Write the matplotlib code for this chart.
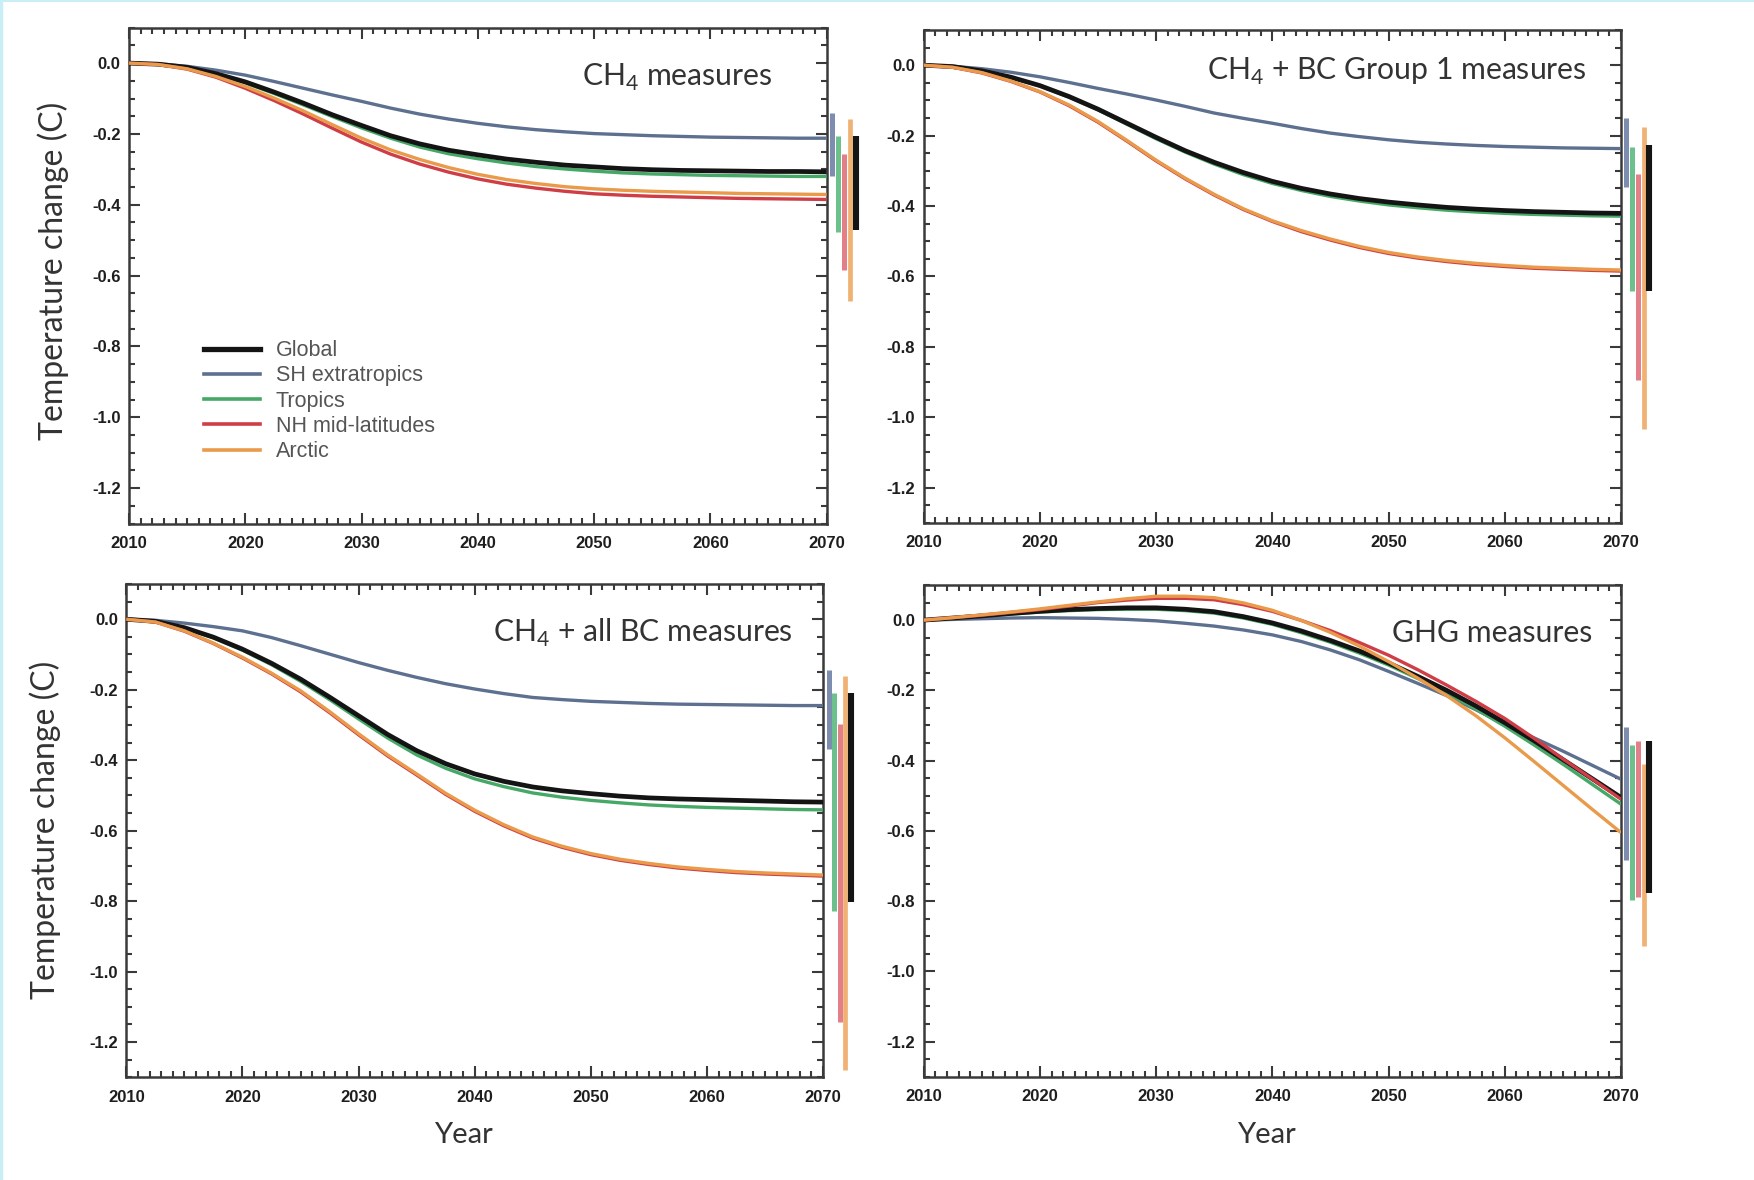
import matplotlib
matplotlib.use("Agg")
import matplotlib.pyplot as plt
from matplotlib import font_manager
from matplotlib.lines import Line2D
from matplotlib.ticker import MultipleLocator, FixedLocator, FormatStrFormatter

# ---------------- data ----------------
YEARS = [2010, 2012.5, 2015, 2017.5, 2020, 2022.5, 2025, 2027.5, 2030, 2032.5, 2035, 2037.5,
         2040, 2042.5, 2045, 2047.5, 2050, 2052.5, 2055, 2057.5, 2060, 2062.5, 2065, 2067.5, 2070]
REGIONS = ["Global", "SH extratropics", "Tropics", "NH mid-latitudes", "Arctic"]
TITLES = [r"CH$_\mathregular{4}$ measures", r"CH$_\mathregular{4}$ + BC Group 1 measures",
          r"CH$_\mathregular{4}$ + all BC measures", "GHG measures"]
X_TICKS = [2010, 2020, 2030, 2040, 2050, 2060, 2070]
Y_TICKS = [0.0, -0.2, -0.4, -0.6, -0.8, -1.0, -1.2]

# Panel 1: CH4 measures
CH4_GLOBAL = [0, -0.003, -0.012, -0.030, -0.053, -0.082, -0.113, -0.146, -0.176, -0.205, -0.228, -0.246, -0.259,
              -0.271, -0.280, -0.288, -0.293, -0.298, -0.301, -0.303, -0.304, -0.305, -0.306, -0.306, -0.307]
CH4_SH     = [0, -0.002, -0.009, -0.020, -0.034, -0.052, -0.071, -0.090, -0.108, -0.127, -0.144, -0.158, -0.170,
              -0.180, -0.188, -0.194, -0.199, -0.202, -0.205, -0.207, -0.209, -0.210, -0.211, -0.212, -0.212]
CH4_TROP   = [0, -0.003, -0.013, -0.032, -0.056, -0.086, -0.118, -0.151, -0.183, -0.212, -0.237, -0.256, -0.270,
              -0.282, -0.292, -0.299, -0.305, -0.310, -0.313, -0.315, -0.317, -0.318, -0.319, -0.320, -0.320]
CH4_NH     = [0, -0.004, -0.017, -0.040, -0.071, -0.106, -0.144, -0.184, -0.223, -0.257, -0.285, -0.308, -0.327,
              -0.342, -0.353, -0.362, -0.369, -0.373, -0.376, -0.378, -0.380, -0.382, -0.383, -0.384, -0.385]
CH4_ARC    = [0, -0.004, -0.016, -0.038, -0.066, -0.099, -0.135, -0.174, -0.212, -0.245, -0.272, -0.295, -0.314,
              -0.329, -0.340, -0.349, -0.355, -0.359, -0.362, -0.364, -0.366, -0.368, -0.369, -0.370, -0.371]

# Panel 2: CH4 + BC Group 1 measures
BC1_GLOBAL = [0, -0.004, -0.016, -0.034, -0.058, -0.089, -0.125, -0.165, -0.205, -0.243, -0.276, -0.305, -0.330,
              -0.350, -0.366, -0.379, -0.389, -0.397, -0.404, -0.409, -0.413, -0.416, -0.418, -0.420, -0.421]
BC1_SH     = [0, -0.003, -0.010, -0.020, -0.033, -0.049, -0.066, -0.082, -0.099, -0.117, -0.136, -0.151, -0.165,
              -0.180, -0.193, -0.203, -0.212, -0.219, -0.224, -0.228, -0.231, -0.233, -0.235, -0.236, -0.237]
BC1_TROP   = [0, -0.004, -0.016, -0.035, -0.059, -0.091, -0.127, -0.168, -0.209, -0.247, -0.281, -0.311, -0.336,
              -0.356, -0.373, -0.386, -0.397, -0.405, -0.412, -0.417, -0.421, -0.424, -0.426, -0.428, -0.429]
BC1_NH     = [0, -0.006, -0.022, -0.046, -0.076, -0.115, -0.162, -0.216, -0.272, -0.323, -0.369, -0.410, -0.444,
              -0.473, -0.497, -0.518, -0.535, -0.548, -0.558, -0.566, -0.572, -0.577, -0.580, -0.583, -0.585]
BC1_ARC    = [0, -0.006, -0.021, -0.045, -0.075, -0.113, -0.160, -0.214, -0.270, -0.321, -0.367, -0.408, -0.442,
              -0.470, -0.494, -0.515, -0.532, -0.545, -0.555, -0.563, -0.569, -0.574, -0.577, -0.580, -0.582]

# Panel 3: CH4 + all BC measures
ABC_GLOBAL = [0, -0.006, -0.024, -0.051, -0.085, -0.125, -0.170, -0.221, -0.274, -0.327, -0.373, -0.410, -0.439,
              -0.460, -0.476, -0.487, -0.495, -0.502, -0.507, -0.510, -0.512, -0.514, -0.516, -0.518, -0.519]
ABC_SH     = [0, -0.003, -0.011, -0.021, -0.033, -0.052, -0.075, -0.099, -0.123, -0.145, -0.165, -0.183, -0.198,
              -0.211, -0.222, -0.228, -0.233, -0.236, -0.239, -0.241, -0.242, -0.243, -0.244, -0.245, -0.245]
ABC_TROP   = [0, -0.006, -0.025, -0.053, -0.088, -0.129, -0.176, -0.228, -0.283, -0.337, -0.385, -0.423, -0.453,
              -0.475, -0.493, -0.505, -0.514, -0.521, -0.527, -0.531, -0.534, -0.536, -0.538, -0.540, -0.541]
ABC_NH     = [0, -0.008, -0.034, -0.069, -0.110, -0.155, -0.206, -0.265, -0.328, -0.388, -0.442, -0.497, -0.545,
              -0.586, -0.621, -0.647, -0.668, -0.684, -0.696, -0.706, -0.713, -0.719, -0.723, -0.726, -0.729]
ABC_ARC    = [0, -0.008, -0.033, -0.068, -0.108, -0.153, -0.203, -0.262, -0.325, -0.385, -0.439, -0.494, -0.542,
              -0.583, -0.618, -0.644, -0.665, -0.681, -0.693, -0.703, -0.710, -0.716, -0.720, -0.723, -0.726]

# Panel 4: GHG measures
GHG_GLOBAL = [0, 0.006, 0.012, 0.019, 0.025, 0.030, 0.033, 0.035, 0.035, 0.031, 0.024, 0.010, -0.008,
              -0.031, -0.058, -0.088, -0.122, -0.160, -0.200, -0.244, -0.292, -0.343, -0.397, -0.451, -0.505]
GHG_SH     = [0, 0.002, 0.004, 0.006, 0.007, 0.006, 0.005, 0.002, -0.002, -0.009, -0.017, -0.028, -0.042,
              -0.061, -0.085, -0.113, -0.146, -0.180, -0.215, -0.255, -0.297, -0.335, -0.373, -0.413, -0.453]
GHG_TROP   = [0, 0.005, 0.011, 0.017, 0.023, 0.027, 0.030, 0.031, 0.031, 0.027, 0.020, 0.006, -0.012,
              -0.036, -0.063, -0.094, -0.128, -0.166, -0.207, -0.253, -0.302, -0.355, -0.410, -0.467, -0.524]
GHG_NH     = [0, 0.007, 0.014, 0.022, 0.030, 0.040, 0.050, 0.057, 0.062, 0.062, 0.058, 0.044, 0.025,
              -0.001, -0.030, -0.064, -0.100, -0.141, -0.185, -0.231, -0.280, -0.336, -0.395, -0.452, -0.510]
GHG_ARC    = [0, 0.007, 0.015, 0.023, 0.032, 0.042, 0.052, 0.061, 0.068, 0.068, 0.064, 0.049, 0.028,
              -0.001, -0.035, -0.074, -0.118, -0.165, -0.215, -0.272, -0.335, -0.402, -0.470, -0.538, -0.605]

# 2070 ranges, order: SH, Tropics, NH, Arctic, Global
BAR_ORDER = ["SH extratropics", "Tropics", "NH mid-latitudes", "Arctic", "Global"]
CH4_BAR_TOP = [-0.140, -0.207, -0.257, -0.157, -0.207]
CH4_BAR_BOT = [-0.320, -0.478, -0.585, -0.673, -0.472]
BC1_BAR_TOP = [-0.150, -0.232, -0.308, -0.175, -0.226]
BC1_BAR_BOT = [-0.346, -0.642, -0.895, -1.033, -0.642]
ABC_BAR_TOP = [-0.144, -0.209, -0.297, -0.162, -0.209]
ABC_BAR_BOT = [-0.369, -0.829, -1.142, -1.280, -0.803]
GHG_BAR_TOP = [-0.303, -0.355, -0.345, -0.411, -0.345]
GHG_BAR_BOT = [-0.684, -0.796, -0.787, -0.928, -0.777]

# ---------------- style ----------------
def pick(names):
    for n in names:
        try:
            font_manager.findfont(font_manager.FontProperties(family=n), fallback_to_default=False)
            return n
        except Exception:
            pass
    return "DejaVu Sans"

TITLE_FONT = pick(["Lato", "Open Sans", "DejaVu Sans"])
TICK_FONT = pick(["Liberation Sans", "DejaVu Sans"])

plt.rcParams["axes.unicode_minus"] = False
plt.rcParams["mathtext.fontset"] = "custom"
plt.rcParams["mathtext.rm"] = TITLE_FONT

LINE_COLORS = {"Global": "#141414", "SH extratropics": "#5d7090", "Tropics": "#45a866",
               "NH mid-latitudes": "#cf3d47", "Arctic": "#e99a4a"}
BAR_COLORS = {"Global": "#141414", "SH extratropics": "#7d8db0", "Tropics": "#6cc08c",
              "NH mid-latitudes": "#e27f88", "Arctic": "#f0b274"}
LINE_WIDTHS = {"Global": 3.4, "SH extratropics": 2.4, "Tropics": 2.4,
               "NH mid-latitudes": 2.4, "Arctic": 2.4}
BAR_WIDTHS = {"Global": 4.4, "SH extratropics": 3.6, "Tropics": 3.6,
              "NH mid-latitudes": 3.6, "Arctic": 3.4}
DRAW_ORDER = ["SH extratropics", "Tropics", "Global", "NH mid-latitudes", "Arctic"]

W, H = 1754, 1180
fig = plt.figure(figsize=(W / 100, H / 100), dpi=100)
fig.patch.set_facecolor("white")

# panel boxes in pixels: left, top, right, bottom
BOXES = [(129, 27.7, 826.6, 523.5), (923.7, 30, 1621, 522.7),
         (126.4, 584, 823, 1077.3), (923.7, 585, 1621, 1076.7)]
TITLE_POS = [(0.923, 0.883), (0.950, 0.898), (0.957, 0.883), (0.959, 0.885)]
BAR_OFFSETS = [[0.5, 1.0, 1.5, 2.0, 2.5], [0.45, 0.93, 1.5, 1.98, 2.44],
               [0.48, 0.97, 1.49, 1.93, 2.42], [0.45, 0.93, 1.5, 1.98, 2.44]]

series = [
    {"Global": CH4_GLOBAL, "SH extratropics": CH4_SH, "Tropics": CH4_TROP, "NH mid-latitudes": CH4_NH, "Arctic": CH4_ARC},
    {"Global": BC1_GLOBAL, "SH extratropics": BC1_SH, "Tropics": BC1_TROP, "NH mid-latitudes": BC1_NH, "Arctic": BC1_ARC},
    {"Global": ABC_GLOBAL, "SH extratropics": ABC_SH, "Tropics": ABC_TROP, "NH mid-latitudes": ABC_NH, "Arctic": ABC_ARC},
    {"Global": GHG_GLOBAL, "SH extratropics": GHG_SH, "Tropics": GHG_TROP, "NH mid-latitudes": GHG_NH, "Arctic": GHG_ARC},
]
bars = [(CH4_BAR_TOP, CH4_BAR_BOT), (BC1_BAR_TOP, BC1_BAR_BOT),
        (ABC_BAR_TOP, ABC_BAR_BOT), (GHG_BAR_TOP, GHG_BAR_BOT)]

SPINE = "#3a3a3a"
for i in range(4):
    l, t, r, b = BOXES[i]
    ax = fig.add_axes([l / W, 1 - b / H, (r - l) / W, (b - t) / H])
    ax.set_xlim(2010, 2070)
    ax.set_ylim(-1.3, 0.1)
    for name in DRAW_ORDER:
        ax.plot(YEARS, series[i][name], color=LINE_COLORS[name], lw=LINE_WIDTHS[name],
                solid_capstyle="butt", solid_joinstyle="round", zorder=3)
    top, bot = bars[i]
    for j, name in enumerate(BAR_ORDER):
        ax.vlines(2070 + BAR_OFFSETS[i][j], bot[j], top[j], colors=BAR_COLORS[name],
                  lw=BAR_WIDTHS[name], clip_on=False, zorder=4)
    for s in ax.spines.values():
        s.set_color(SPINE)
        s.set_linewidth(1.8)
    ax.xaxis.set_major_locator(FixedLocator(X_TICKS))
    ax.xaxis.set_minor_locator(MultipleLocator(1))
    ax.yaxis.set_major_locator(FixedLocator(Y_TICKS))
    ax.yaxis.set_minor_locator(MultipleLocator(0.05))
    ax.yaxis.set_major_formatter(FormatStrFormatter("%.1f"))
    ax.tick_params(which="both", direction="in", top=True, right=True, colors=SPINE, width=1.5)
    ax.tick_params(which="major", length=8)
    ax.tick_params(which="minor", length=4)
    ax.tick_params(axis="x", which="major", pad=9)
    ax.tick_params(axis="y", which="major", pad=6)
    for lab in ax.get_xticklabels() + ax.get_yticklabels():
        lab.set_fontfamily(TICK_FONT)
        lab.set_fontweight("bold")
        lab.set_fontsize(12)
        lab.set_color("#1e1e1e")
    ax.text(TITLE_POS[i][0], TITLE_POS[i][1], TITLES[i], transform=ax.transAxes,
            ha="right", va="baseline", fontsize=21.7, family=TITLE_FONT, color="#333333")
    if i == 0:
        handles = [Line2D([], [], color=LINE_COLORS[n], lw=(3.8 if n == "Global" else 2.6)) for n in REGIONS]
        leg = ax.legend(handles, REGIONS, loc="upper left", bbox_to_anchor=(0.107, 0.370),
                        frameon=False, borderpad=0, borderaxespad=0, handlelength=2.6,
                        handletextpad=0.75, labelspacing=0.2,
                        prop={"family": TICK_FONT, "size": 15.5})
        for txt in leg.get_texts():
            txt.set_color("#555555")

# axis labels
for (x, y) in [(53, 271), (45, 830)]:
    fig.text(x / W, 1 - y / H, "Temperature change (C)", rotation=90, ha="center", va="center",
             fontsize=23, family=TITLE_FONT, color="#333333")
for (x, y) in [(463, 1135), (1266, 1135)]:
    fig.text(x / W, 1 - y / H, "Year", ha="center", va="center",
             fontsize=21, family=TITLE_FONT, color="#333333")

# light border on left and top edges
fig.add_artist(Line2D([0.0008, 0.0008], [0, 1], transform=fig.transFigure, color="#c9eef6", lw=2.5))
fig.add_artist(Line2D([0, 1], [0.9993, 0.9993], transform=fig.transFigure, color="#c9eef6", lw=1.5))

fig.savefig("out.png", dpi=100, facecolor="white")
